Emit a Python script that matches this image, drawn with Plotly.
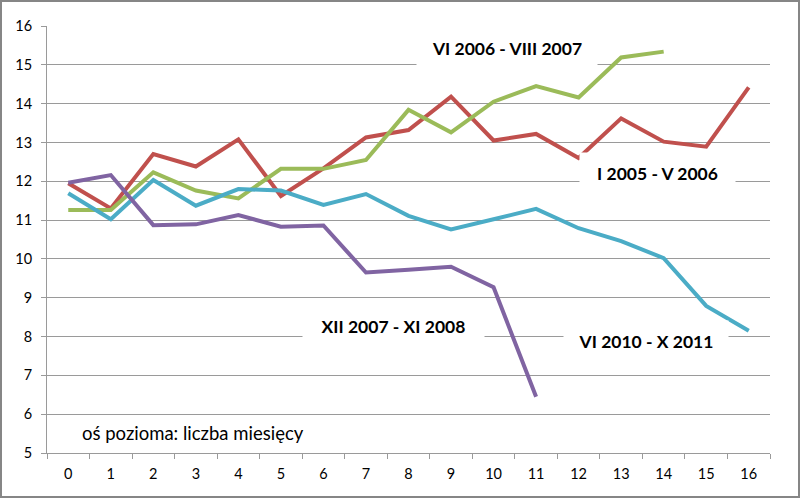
import plotly.graph_objects as go

months = [str(i) for i in range(17)]

red_name = "I 2005 - V 2006"
red_vals = [11.95, 11.30, 12.70, 12.38, 13.08, 11.62, 12.33, 13.13, 13.32, 14.18,
            13.05, 13.22, 12.60, 13.62, 13.02, 12.89, 14.42]

green_name = "VI 2006 - VIII 2007"
green_vals = [11.26, 11.26, 12.23, 11.76, 11.56, 12.32, 12.32, 12.55, 13.84, 13.26,
              14.05, 14.45, 14.16, 15.19, 15.34]

cyan_name = "VI 2010 - X 2011"
cyan_vals = [11.69, 11.02, 12.03, 11.37, 11.80, 11.76, 11.39, 11.67, 11.11, 10.76,
             11.02, 11.29, 10.79, 10.46, 10.02, 8.79, 8.15]

purple_name = "XII 2007 - XI 2008"
purple_vals = [11.96, 12.16, 10.87, 10.89, 11.13, 10.83, 10.86, 9.65, 9.72, 9.80,
               9.27, 6.45]

y_ticks = list(range(5, 17))
axis_note = "oś pozioma: liczba miesięcy"

W, H = 800, 498
ML, MR, MT, MB = 47, 30, 26, 45
PW, PH = W - ML - MR, H - MT - MB

FONT = "Lato"
GRID = "#9a9a9a"

fig = go.Figure()
series = [
    (red_name, red_vals, "#C0504D"),
    (green_name, green_vals, "#9BBB59"),
    (cyan_name, cyan_vals, "#4BACC6"),
    (purple_name, purple_vals, "#8064A2"),
]
for name, vals, col in series:
    fig.add_trace(go.Scatter(
        x=months[:len(vals)], y=vals, mode="lines", name=name,
        line=dict(color=col, width=4), hoverinfo="x+y+name"))

# series labels (white boxes like the original chart)
labels = [
    (green_name, 10.32, 15.43, 180),
    (red_name, 13.85, 12.21, 155),
    (purple_name, 7.65, 8.27, 181),
    (cyan_name, 13.58, 7.89, 164),
]
for text, lx, ly, bw in labels:
    fig.add_annotation(x=lx, y=ly, xref="x", yref="y", text="<b>%s</b>" % text,
                       showarrow=False, bgcolor="white", borderpad=0,
                       width=bw, height=40, align="center",
                       font=dict(family=FONT, size=17.5, color="#000000"))

fig.add_annotation(x=0.28, y=5.52, xref="x", yref="y", text=axis_note,
                   showarrow=False, xanchor="left", yanchor="middle",
                   font=dict(family=FONT, size=18.5, color="#000000"))

# outer chart border
fig.add_shape(type="rect", xref="paper", yref="paper",
              x0=(1 - ML) / PW, x1=(W - 1 - ML) / PW,
              y0=-(MB - 1) / PH, y1=1 + (MT - 1) / PH,
              line=dict(color="#868686", width=2), layer="above")

fig.update_layout(
    width=W, height=H,
    margin=dict(l=ML, r=MR, t=MT, b=MB),
    paper_bgcolor="white", plot_bgcolor="white",
    showlegend=False,
    font=dict(family=FONT, size=14.5, color="#000000"),
)
fig.update_xaxes(type="category", categoryorder="array", categoryarray=months,
                 range=[-0.5, 16.5], tickson="boundaries", ticks="outside",
                 ticklen=5, tickcolor=GRID, showline=True, linecolor=GRID,
                 linewidth=1, showgrid=False, tickfont=dict(size=14.5),
                 zeroline=False, ticklabelstandoff=8)
fig.update_yaxes(range=[5, 16], tickvals=y_ticks, ticks="outside", ticklen=5,
                 tickcolor=GRID, showline=True, linecolor=GRID, linewidth=1,
                 showgrid=True, gridcolor=GRID, gridwidth=1, zeroline=False,
                 tickfont=dict(size=14.5), ticklabelstandoff=6)

fig.write_html("out.html", config={"displayModeBar": False},
               post_script="document.body.style.margin='0px';document.body.style.overflow='hidden';")
